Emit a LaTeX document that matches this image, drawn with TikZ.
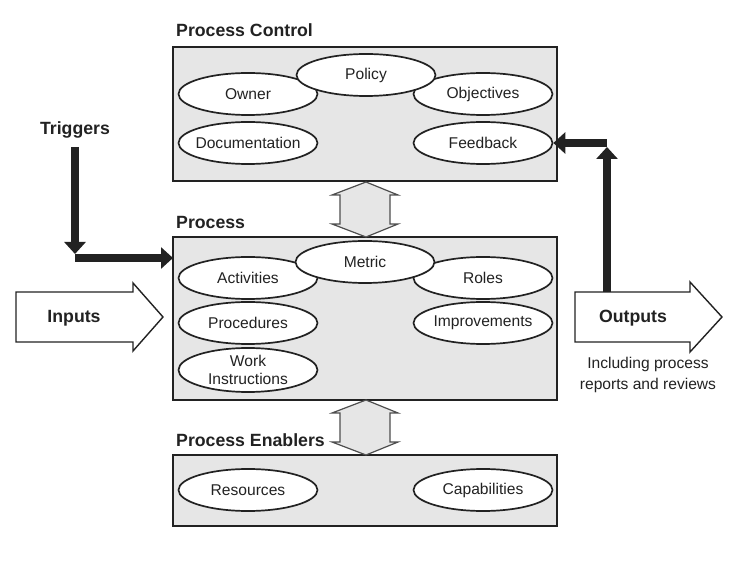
\documentclass[tikz,border=0pt]{standalone}
\usepackage{fontspec}
\setmainfont{Liberation Sans}
\usetikzlibrary{arrows.meta,positioning,shapes.geometric}

\definecolor{boxgray}{HTML}{E6E6E6}
\definecolor{ink}{HTML}{222222}

\tikzset{
  stage/.style={draw=ink, line width=2.2pt, fill=boxgray, inner sep=0pt, outer sep=0pt},
  part/.style={ellipse, draw=ink, line width=1.7pt, fill=white, minimum width=139pt,
    minimum height=42pt, inner xsep=-6pt, inner ysep=-4pt, align=center, text=ink,
    font=\fontsize{15.6}{18}\selectfont},
  title/.style={anchor=west, inner sep=0pt, text=ink, font=\fontsize{17.7}{20}\selectfont\bfseries},
  heavy/.style={draw=ink, line width=7.5pt, -{Triangle[width=21pt,length=12pt]}},
  block/.style={draw=ink, line width=1.4pt, fill=white},
  link/.style={draw=ink!80, line width=1.2pt, fill=boxgray},
}

\begin{document}
\begin{tikzpicture}[x=1pt, y=-1pt]
  \useasboundingbox (0,0) rectangle (732,572);

  % boxes
  \node[stage, minimum width=384pt, minimum height=134pt] (control) at (365,114) {};
  \node[stage, minimum width=384pt, minimum height=163pt] (process) at (365,318.5) {};
  \node[stage, minimum width=384pt, minimum height=71pt] (enablers) at (365,490.5) {};

  \node[title] (controltitle) at (176,30) {Process Control};
  \node[title] (processtitle) at (176,222) {Process};
  \node[title] (enablerstitle) at (176,440) {Process Enablers};

  % process control
  \node[part] (owner) at (248,94) {Owner};
  \node[part] (objectives) at (483,94) {Objectives};
  \node[part] (documentation) at (248,143) {Documentation};
  \node[part] (feedback) at (483,143) {Feedback};
  \node[part] (policy) at (366,75) {Policy};

  % process
  \node[part] (activities) at (248,278) {Activities};
  \node[part] (roles) at (483,278) {Roles};
  \node[part] (procedures) at (248,323) {Procedures};
  \node[part] (improvements) at (483,323) {Improvements};
  \node[part, minimum height=44pt] (work) at (248,370) {Work\\Instructions};
  \node[part] (metric) at (365,262) {Metric};

  % process enablers
  \node[part] (resources) at (248,490) {Resources};
  \node[part] (capabilities) at (483,490) {Capabilities};

  % links between boxes
  \draw[link] (366,182) -- (398,195) -- (390,195) -- (390,224) -- (398,224) -- (366,237)
    -- (332,224) -- (340,224) -- (340,195) -- (332,195) -- cycle;
  \draw[link] (366,400) -- (398,413) -- (390,413) -- (390,442) -- (398,442) -- (366,455)
    -- (332,442) -- (340,442) -- (340,413) -- (332,413) -- cycle;

  % inputs and outputs
  \draw[block] (16,292) -- (133,292) -- (133,283) -- (163,317) -- (133,351) -- (133,342)
    -- (16,342) -- cycle;
  \node[title, anchor=center] (inputs) at (74,318) {Inputs};
  \draw[block] (575,292) -- (690,292) -- (690,282) -- (722,317) -- (690,352) -- (690,342)
    -- (575,342) -- cycle;
  \node[title, anchor=center] (outputs) at (633,318) {Outputs};
  \node[align=center, text=ink, font=\fontsize{15.6}{21}\selectfont] (reports) at (648,375)
    {Including process\\reports and reviews};

  % triggers
  \node[title, anchor=center] (triggers) at (75,130) {Triggers};
  \coordinate (tbend) at (75,258);
  \draw[heavy] (75,147) -- (75,254);
  \draw[heavy] (tbend) -- (tbend -| process.west);

  % feedback loop
  \coordinate (fstart) at (607,292);
  \coordinate (fbend) at (607,143);
  \draw[heavy] (fstart) -- (607,147);
  \draw[heavy] (fbend) -- (feedback.east);
\end{tikzpicture}
\end{document}
